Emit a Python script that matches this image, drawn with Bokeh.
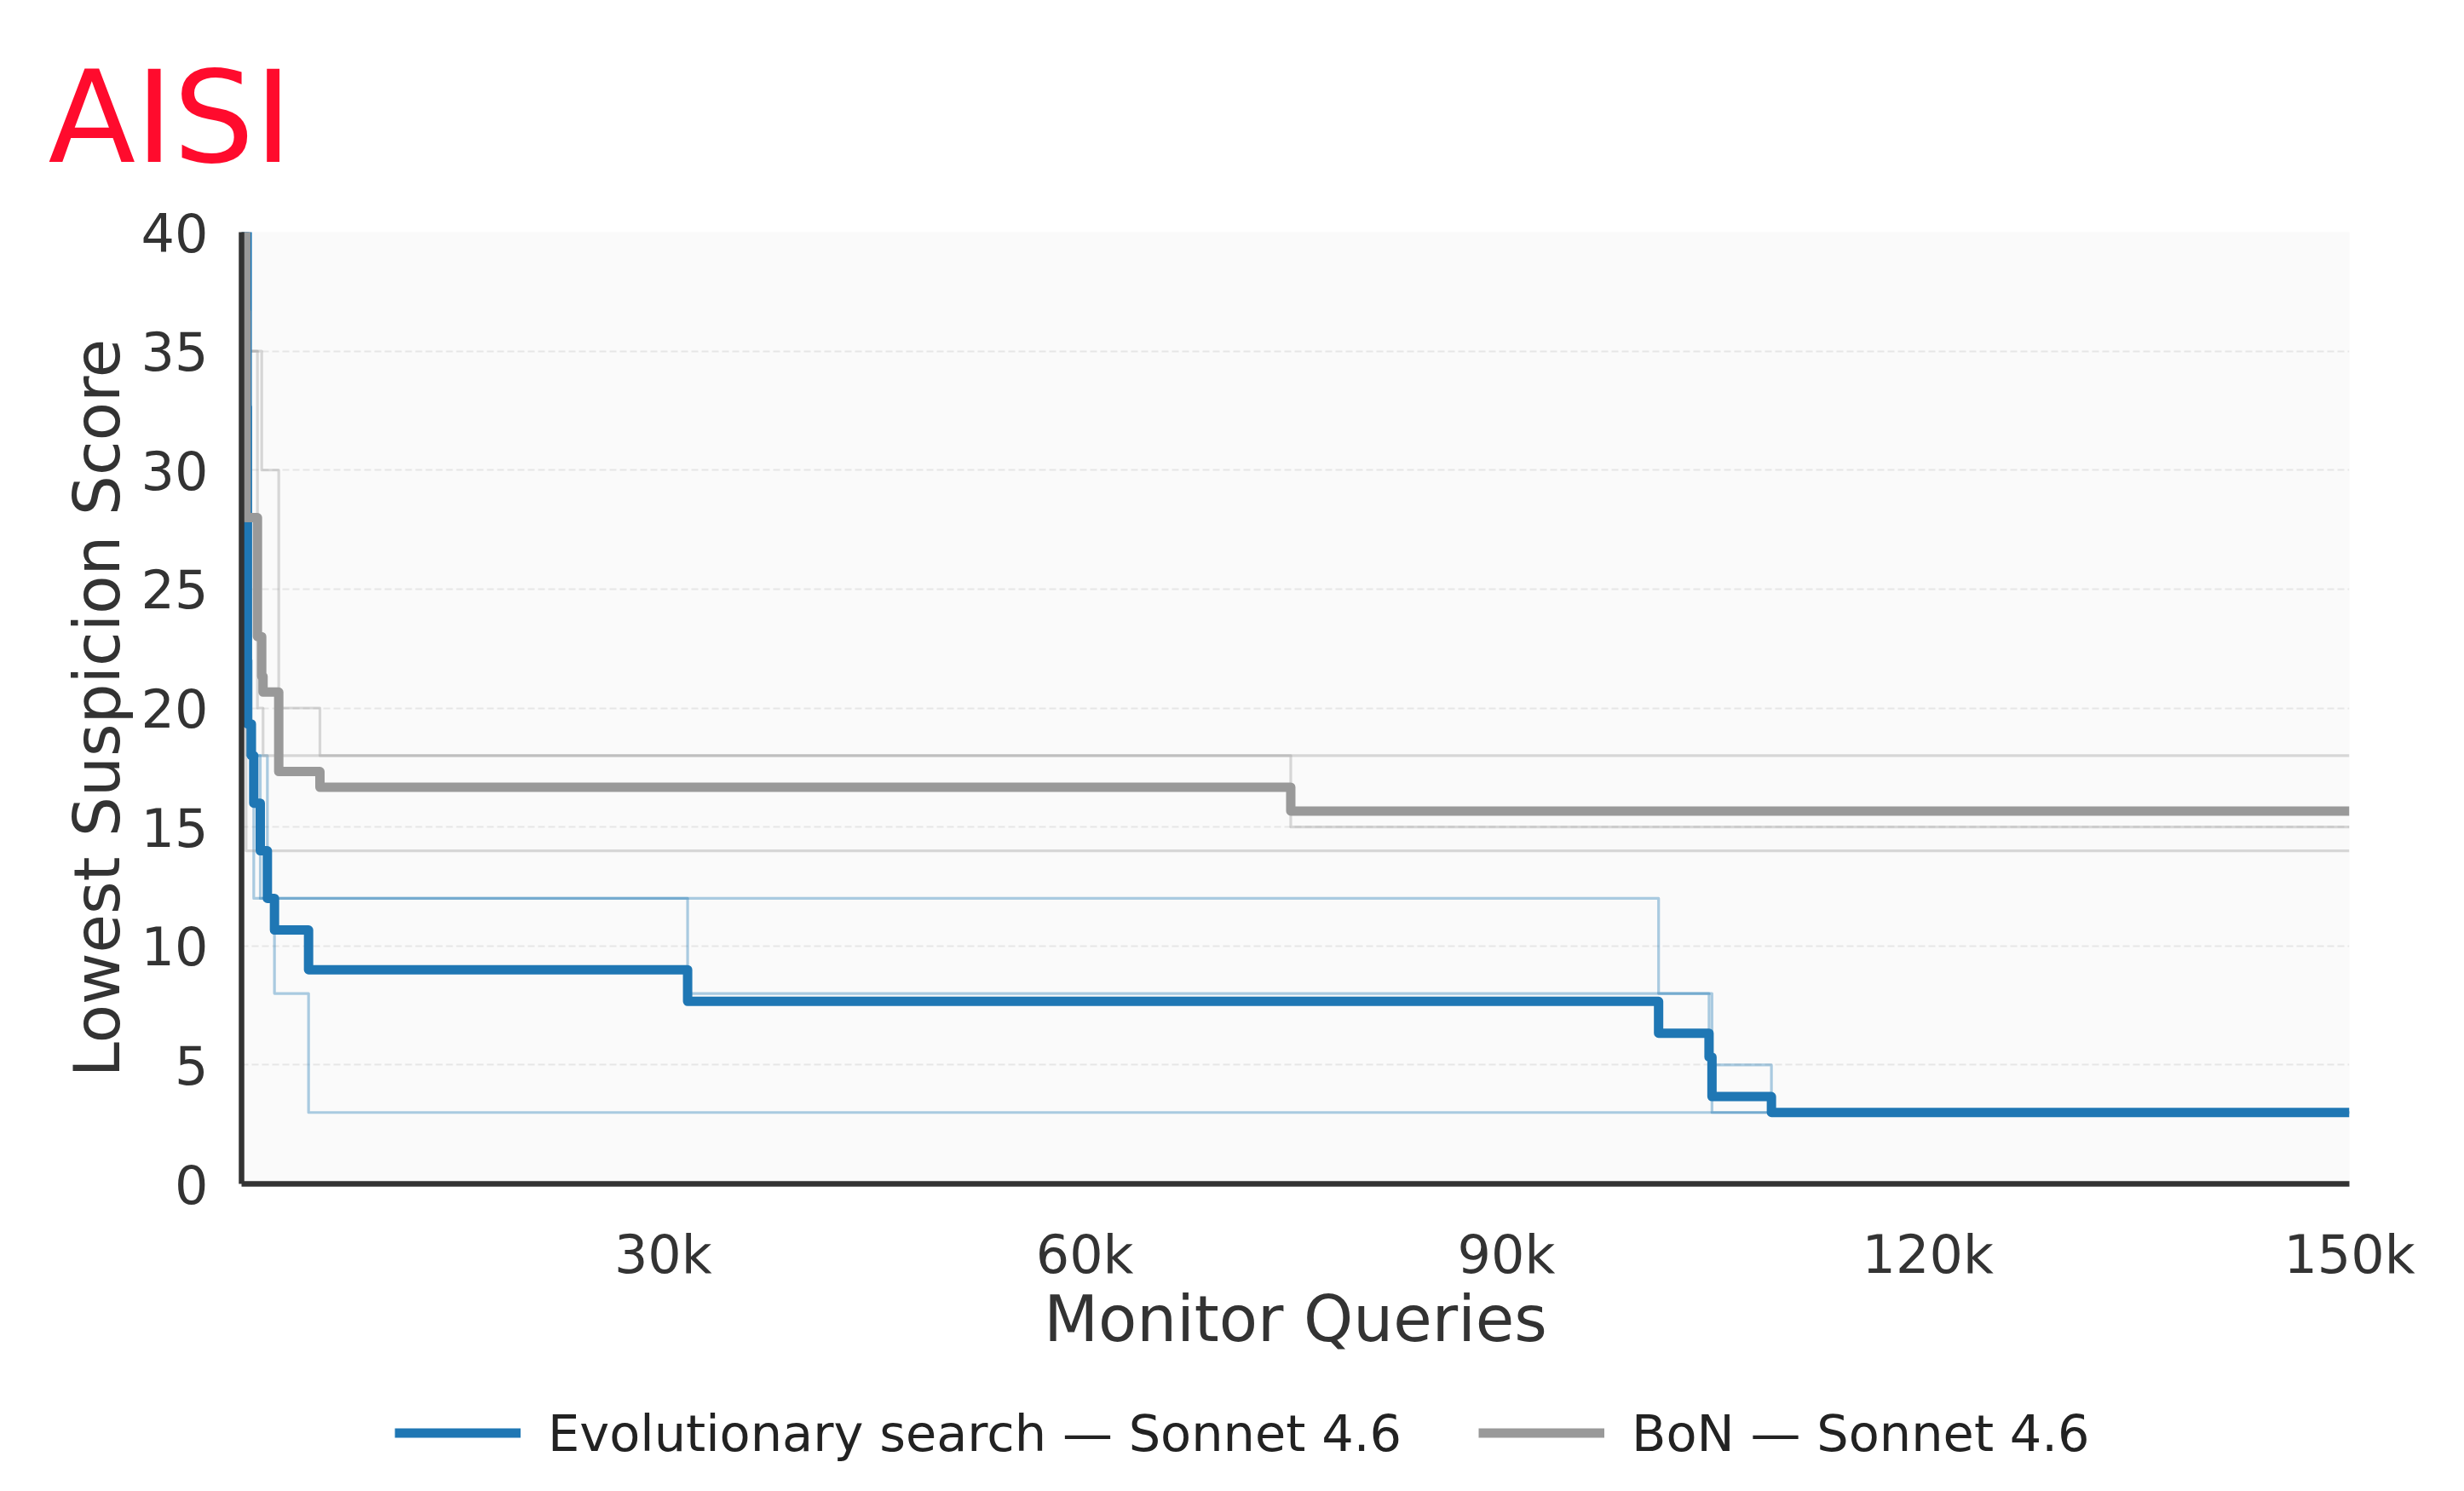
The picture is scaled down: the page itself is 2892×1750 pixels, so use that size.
from bokeh.plotting import figure
from bokeh.layouts import column
from bokeh.models import (Range1d, FixedTicker, Legend, LegendItem, Title)
from bokeh.embed import file_html
from bokeh.resources import INLINE

# ---------------- data ----------------
x_tick_values = [30000, 60000, 90000, 120000, 150000]
x_tick_labels = ["30k", "60k", "90k", "120k", "150k"]
y_tick_values = [0, 5, 10, 15, 20, 25, 30, 35, 40]

# Evolutionary search — individual runs (step "after")
evo_run1_x = [0, 420, 700, 869, 100840, 104640, 150000]
evo_run1_y = [40, 22, 18, 12, 8, 3, 3]
evo_run2_x = [0, 420, 1334, 31744, 104430, 108870, 150000]
evo_run2_y = [40, 18, 12, 8, 5, 3, 3]
evo_run3_x = [0, 400, 1839, 2344, 4770, 150000]
evo_run3_y = [40, 18, 12, 8, 3, 3]
# Evolutionary search — mean line
evo_mean_x = [0, 400, 420, 700, 869, 1334, 1839, 2344, 4770, 31744,
              100840, 104430, 104640, 108870, 150000]
evo_mean_y = [40, 32.67, 19.33, 18, 16, 14, 12, 10.67, 9, 7.67,
              6.33, 5.33, 3.67, 3, 3]

# BoN — individual runs
bon_run1_x = [0, 300, 1435, 2647, 5578, 150000]
bon_run1_y = [40, 35, 30, 20, 18, 18]
bon_run2_x = [0, 300, 1132, 1530, 74665, 150000]
bon_run2_y = [40, 35, 20, 18, 15, 15]
bon_run3_x = [0, 323, 150000]
bon_run3_y = [40, 14, 14]
# BoN — mean line
bon_mean_x = [0, 300, 323, 1132, 1435, 1530, 2647, 5578, 74665, 150000]
bon_mean_y = [40, 36.67, 28, 23, 21.33, 20.67, 17.33, 16.67, 15.67, 15.67]

series_labels = ["Evolutionary search — Sonnet 4.6", "BoN — Sonnet 4.6"]
x_label = "Monitor Queries"
y_label = "Lowest Suspicion Score"
logo_text = "AISI"

BLUE = "#1f77b4"
GRAY = "#999999"
FONT = "DejaVu Sans"

W = 2876
H_MAIN = 1629
H_LEG = 105

p = figure(width=W, height=H_MAIN, output_backend="svg", toolbar_location=None,
           x_range=Range1d(0, 150000), y_range=Range1d(0, 40),
           min_border_left=283, min_border_right=119,
           min_border_top=271, min_border_bottom=H_MAIN - 1389)
p.background_fill_color = "#fafafa"
p.border_fill_color = "white"
p.outline_line_color = None

# logo as title
p.title = Title(text=logo_text, align="left", offset=-227, standoff=96,
                text_font=FONT, text_font_size="150px", text_font_style="normal",
                text_color="#ff0b2d")

# grid
p.xgrid.grid_line_color = None
p.ygrid.grid_line_color = "#e6e6e6"
p.ygrid.grid_line_width = 2
p.ygrid.grid_line_dash = "8 4"

# axes
p.xaxis.ticker = FixedTicker(ticks=x_tick_values)
p.xaxis.major_label_overrides = {v: l for v, l in zip(x_tick_values, x_tick_labels)}
p.yaxis.ticker = FixedTicker(ticks=y_tick_values)
for ax in (p.xaxis[0], p.yaxis[0]):
    ax.axis_line_color = "#333333"
    ax.axis_line_width = 6.5
    ax.major_tick_line_color = None
    ax.minor_tick_line_color = None
    ax.major_label_text_font = FONT
    ax.major_label_text_font_size = "62px"
    ax.major_label_text_color = "#333333"
    ax.axis_label_text_font = FONT
    ax.axis_label_text_font_size = "74px"
    ax.axis_label_text_font_style = "normal"
    ax.axis_label_text_color = "#333333"
p.xaxis.axis_label = x_label
p.yaxis.axis_label = y_label
p.xaxis.major_label_standoff = 40
p.xaxis.axis_label_standoff = -7
p.yaxis.major_label_standoff = 33
p.yaxis.axis_label_standoff = 6

# thin individual runs
for xs, ys in [(evo_run1_x, evo_run1_y), (evo_run2_x, evo_run2_y), (evo_run3_x, evo_run3_y)]:
    p.step(xs, ys, mode="after", line_color=BLUE, line_alpha=0.37, line_width=3.2,
           line_join="round")
for xs, ys in [(bon_run1_x, bon_run1_y), (bon_run2_x, bon_run2_y), (bon_run3_x, bon_run3_y)]:
    p.step(xs, ys, mode="after", line_color=GRAY, line_alpha=0.37, line_width=3.2,
           line_join="round")

# mean lines
p.step(evo_mean_x, evo_mean_y, mode="after", line_color=BLUE, line_width=11,
       line_join="round")
p.step(bon_mean_x, bon_mean_y, mode="after", line_color=GRAY, line_width=11,
       line_join="round")

# ---------------- legend strip below the chart ----------------
# same mean series, drawn out of view (y range far below the data) so only the legend shows
leg = figure(width=W, height=H_LEG, output_backend="svg", toolbar_location=None,
             x_range=Range1d(0, 150000), y_range=Range1d(-200, -100),
             x_axis_location=None, y_axis_location=None,
             min_border_left=0, min_border_right=0, min_border_top=0, min_border_bottom=0)
leg.grid.visible = False
leg.outline_line_color = None
leg.background_fill_color = "white"
leg.border_fill_color = "white"
l_evo = leg.step(evo_mean_x, evo_mean_y, mode="after", line_color=BLUE, line_width=11)
l_bon = leg.step(bon_mean_x, bon_mean_y, mode="after", line_color=GRAY, line_width=11)

legend = Legend(items=[LegendItem(label=series_labels[0], renderers=[l_evo]),
                       LegendItem(label=series_labels[1], renderers=[l_bon])],
                orientation="horizontal", location="left")
legend.label_text_font = FONT
legend.label_text_font_size = "59px"
legend.label_text_color = "#222222"
legend.glyph_width = 148
legend.glyph_height = 60
legend.label_height = 60
legend.label_standoff = 32
legend.spacing = 90
legend.padding = 0
legend.margin = 180
legend.border_line_color = None
legend.background_fill_alpha = 0
leg.add_layout(legend, "center")

layout = column(p, leg, spacing=0)
open("out.html", "w").write(file_html(layout, INLINE))
